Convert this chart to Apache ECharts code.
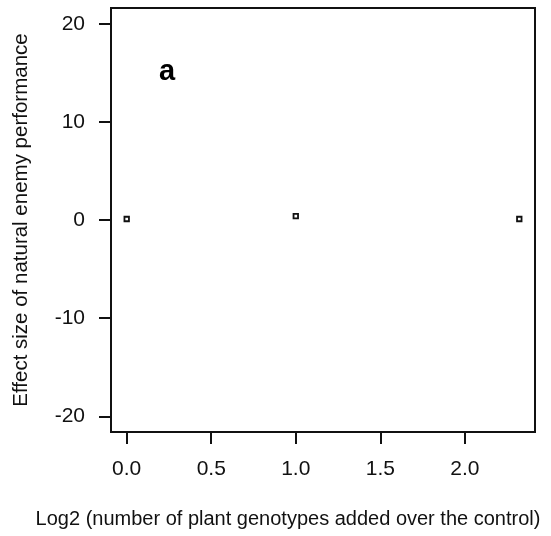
<!DOCTYPE html>
<html>
<head>
<meta charset="utf-8">
<script src="https://cdn.jsdelivr.net/npm/echarts@6/dist/echarts.min.js"></script>
<style>
html,body{margin:0;padding:0;background:#fff;}
#chart{width:551px;height:536px;}
</style>
</head>
<body>
<div id="chart"></div>
<script>
// Data
var xValues = [0, 1, 2.3219];          // log2(number of genotypes added)
var yValues = [0.1, 0.4, 0.1];          // effect size
var xTicks = [0, 0.5, 1, 1.5, 2];
var yTicks = [-20, -10, 0, 10, 20];
var panelLabel = 'a';
var xTitle = 'Log2 (number of plant genotypes added over the control)';
var yTitle = 'Effect size of natural enemy performance';

var points = xValues.map(function (x, i) { return [x, yValues[i]]; });
var font = 'Liberation Sans, Arial, sans-serif';

var chart = echarts.init(document.getElementById('chart'));
chart.setOption({
  animation: false,
  backgroundColor: '#fff',
  title: {
    text: panelLabel,
    left: 154, top: 52,
    textStyle: {fontFamily: font, fontSize: 29, fontWeight: 'bold', color: '#000'}
  },
  grid: {
    left: 111, right: 16, top: 8, bottom: 104,
    show: true, borderColor: '#111', borderWidth: 2, backgroundColor: 'transparent'
  },
  xAxis: {
    type: 'value',
    min: -0.0929, max: 2.4148,
    axisLine: {show: false, onZero: false},
    splitLine: {show: false},
    axisTick: {show: true, inside: false, length: 12, customValues: xTicks,
      lineStyle: {color: '#111', width: 2}},
    axisLabel: {show: true, customValues: xTicks, margin: 27,
      formatter: function (v) { return v.toFixed(1); },
      fontFamily: font, fontSize: 21, color: '#111'},
    name: xTitle,
    nameLocation: 'middle',
    nameGap: 77,
    nameTextStyle: {fontFamily: font, fontSize: 20, color: '#111', padding: [0, 70, 0, 0]}
  },
  yAxis: {
    type: 'value',
    min: -21.6, max: 21.6,
    axisLine: {show: false, onZero: false},
    splitLine: {show: false},
    axisTick: {show: true, inside: false, length: 12, customValues: yTicks,
      lineStyle: {color: '#111', width: 2}},
    axisLabel: {show: true, customValues: yTicks, margin: 26,
      fontFamily: font, fontSize: 21, color: '#111'},
    name: yTitle,
    nameLocation: 'middle',
    nameGap: 79,
    nameTextStyle: {fontFamily: font, fontSize: 20.5, color: '#111'}
  },
  series: [{
    type: 'scatter',
    data: points,
    symbol: 'rect',
    symbolSize: 4.5,
    itemStyle: {color: '#fff', borderColor: '#111', borderWidth: 1.8, opacity: 1}
  }]
});
</script>
</body>
</html>
